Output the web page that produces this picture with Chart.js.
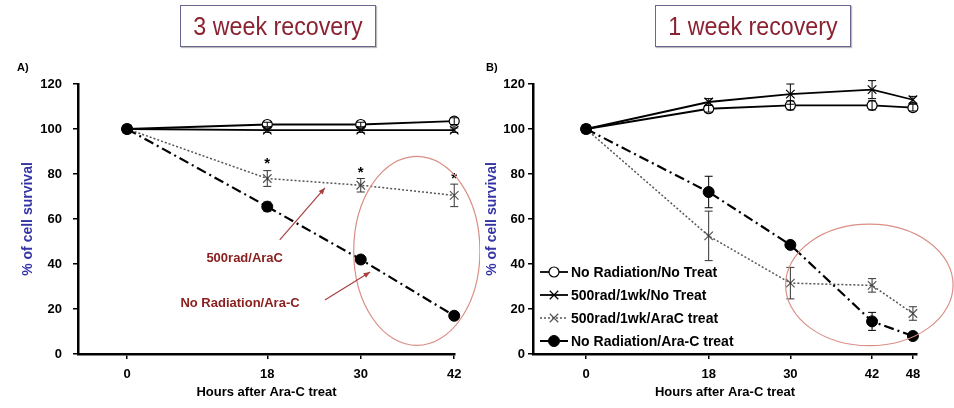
<!DOCTYPE html>
<html>
<head>
<meta charset="utf-8">
<script src="https://cdn.jsdelivr.net/npm/chart.js@4.4.1/dist/chart.umd.min.js"></script>
<style>
  body { margin: 0; background: #fff; }
  #wrap { position: relative; width: 954px; height: 408px; overflow: hidden; font-family: "Liberation Sans", Arial, sans-serif; }
  canvas { position: absolute; top: 0; }
  .ttl { position: absolute; top: 5px; width: 194px; height: 40px; border: 1px solid #66668f; box-shadow: 1px 1px 1px #bbb;
         color: #8b2232; font-size: 25px; line-height: 40px; text-align: center; white-space: nowrap; }
  .ttl span { display: inline-block; transform: scaleX(0.93); }
  .pl { position: absolute; top: 61px; font-size: 11px; font-weight: bold; }
</style>
</head>
<body>
<div id="wrap">
  <canvas id="chartA" width="480" height="408" style="left:0"></canvas>
  <canvas id="chartB" width="474" height="408" style="left:480px"></canvas>
  <div class="ttl" style="left:180px"><span>3 week recovery</span></div>
  <div class="ttl" style="left:655px"><span>1 week recovery</span></div>
  <div class="pl" style="left:17px">A)</div>
  <div class="pl" style="left:486px">B)</div>
</div>
<script>
// panel A - 3 week recovery
const hoursA = [0, 18, 30, 42];
const aNoRadNoTreat = [100, 102, 102, 103.5];
const aNoRadNoTreatErr = [0, 1, 1, 1.5];
const aRadNoTreat = [100, 99.5, 99.5, 99.5];
const aRadNoTreatErr = [0, 1, 1, 1];
const aRadAraC = [100, 78, 75, 70.5];
const aRadAraCErr = [0, 3.5, 3, 5];
const aNoRadAraC = [100, 65.5, 42, 17];
const aNoRadAraCErr = [0, 2, 1.5, 1.5];
const aStars = [null, 86, 82, 79];

// panel B - 1 week recovery
const hoursB = [0, 18, 30, 42, 48];
const bNoRadNoTreat = [100, 109, 110.5, 110.5, 109.5];
const bNoRadNoTreatErr = [0, 1.5, 2, 2, 1.5];
const bRadNoTreat = [100, 112, 115.5, 117.5, 113];
const bRadNoTreatErr = [0, 1.5, 4.5, 4, 1.5];
const bRadAraC = [100, 52.5, 31.5, 30.5, 18];
const bRadAraCErr = [0, 11, 7, 3, 3];
const bNoRadAraC = [100, 72, 48.5, 14.5, 8];
const bNoRadAraCErr = [0, 7, 1, 4, 1];

const legendNames = ['No Radiation/No Treat', '500rad/1wk/No Treat', '500rad/1wk/AraC treat', 'No Radiation/Ara-C treat'];
const yTicks = [0, 20, 40, 60, 80, 100, 120];

const FONT = '"Liberation Sans", Arial, sans-serif';

const styles = [
  { borderColor: '#000', borderWidth: 1.8, pointStyle: 'circle', pointRadius: 5, pointBackgroundColor: '#fff', pointBorderColor: '#000', pointBorderWidth: 1.2, order: 3 },
  { borderColor: '#000', borderWidth: 1.8, pointStyle: 'crossRot', pointRadius: 6, pointBackgroundColor: '#000', pointBorderColor: '#000', pointBorderWidth: 1.2, order: 2 },
  { borderColor: '#555', borderWidth: 1.5, borderDash: [2, 2], pointStyle: 'crossRot', pointRadius: 6, pointBackgroundColor: '#555', pointBorderColor: '#555', pointBorderWidth: 1.2, order: 1 },
  { borderColor: '#000', borderWidth: 2.2, borderDash: [10, 4, 2, 4], pointStyle: 'circle', pointRadius: 5.5, pointBackgroundColor: '#000', pointBorderColor: '#000', pointBorderWidth: 1, order: 0 }
];

function makeSet(i, hours, vals, errs) {
  return Object.assign({
    label: legendNames[i],
    data: hours.map((h, k) => ({ x: h, y: vals[k] })),
    errs: errs,
    tension: 0,
    fill: false,
    clip: false
  }, styles[i]);
}

// error bars, stars, notes, ellipse, legend
const extras = {
  id: 'extras',
  afterDatasetsDraw(chart, args, opts) {
    const ctx = chart.ctx;
    const xs = chart.scales.x, ys = chart.scales.y;
    ctx.save();
    chart.data.datasets.forEach((ds) => {
      ctx.strokeStyle = ds.borderColor === '#555' ? '#333' : '#000';
      ctx.lineWidth = 1;
      ctx.setLineDash([]);
      ds.data.forEach((p, k) => {
        const e = ds.errs[k];
        if (!e) return;
        const px = xs.getPixelForValue(p.x);
        const t = ys.getPixelForValue(p.y + e), b = ys.getPixelForValue(p.y - e);
        ctx.beginPath();
        ctx.moveTo(px, t); ctx.lineTo(px, b);
        ctx.moveTo(px - 4, t); ctx.lineTo(px + 4, t);
        ctx.moveTo(px - 4, b); ctx.lineTo(px + 4, b);
        ctx.stroke();
      });
    });

    if (opts.stars) {
      ctx.fillStyle = '#000';
      ctx.font = 'bold 15px ' + FONT;
      ctx.textAlign = 'center';
      ctx.textBaseline = 'middle';
      opts.stars.hours.forEach((h, k) => {
        if (opts.stars.vals[k] == null) return;
        ctx.fillText('*', xs.getPixelForValue(h), ys.getPixelForValue(opts.stars.vals[k]) + 3);
      });
    }

    if (opts.ellipse) {
      const el = opts.ellipse;
      const cx = xs.getPixelForValue(el.x), cy = ys.getPixelForValue(el.y);
      const rx = xs.getPixelForValue(el.x + el.rx) - cx;
      const ry = cy - ys.getPixelForValue(el.y + el.ry);
      ctx.strokeStyle = '#d98f86';
      ctx.lineWidth = 1.2;
      ctx.beginPath();
      ctx.ellipse(cx, cy, rx, ry, 0, 0, Math.PI * 2);
      ctx.stroke();
    }

    if (opts.notes) {
      ctx.font = 'bold 13px ' + FONT;
      ctx.textAlign = 'center';
      ctx.textBaseline = 'middle';
      opts.notes.forEach((n) => {
        ctx.fillStyle = '#8b2020';
        ctx.fillText(n.text, xs.getPixelForValue(n.x), ys.getPixelForValue(n.y));
        const x1 = xs.getPixelForValue(n.from[0]), y1 = ys.getPixelForValue(n.from[1]);
        const x2 = xs.getPixelForValue(n.to[0]), y2 = ys.getPixelForValue(n.to[1]);
        ctx.strokeStyle = '#a84040';
        ctx.fillStyle = '#a84040';
        ctx.lineWidth = 1.2;
        ctx.beginPath(); ctx.moveTo(x1, y1); ctx.lineTo(x2, y2); ctx.stroke();
        const a = Math.atan2(y2 - y1, x2 - x1);
        ctx.beginPath();
        ctx.moveTo(x2, y2);
        ctx.lineTo(x2 - 7 * Math.cos(a - 0.4), y2 - 7 * Math.sin(a - 0.4));
        ctx.lineTo(x2 - 7 * Math.cos(a + 0.4), y2 - 7 * Math.sin(a + 0.4));
        ctx.closePath(); ctx.fill();
      });
    }

    if (opts.legend) {
      const area = chart.chartArea;
      ctx.font = 'bold 14px ' + FONT;
      ctx.textAlign = 'left';
      ctx.textBaseline = 'middle';
      chart.data.datasets.forEach((ds, i) => {
        const y = area.bottom - 82 + i * 23;
        const x0 = area.left + 7;
        ctx.strokeStyle = ds.borderColor;
        ctx.lineWidth = ds.borderWidth;
        ctx.setLineDash(ds.borderDash || []);
        ctx.beginPath(); ctx.moveTo(x0, y); ctx.lineTo(x0 + 28, y); ctx.stroke();
        ctx.setLineDash([]);
        ctx.fillStyle = ds.pointBackgroundColor;
        ctx.strokeStyle = ds.pointBorderColor;
        ctx.lineWidth = ds.pointBorderWidth;
        Chart.helpers.drawPoint(ctx, { pointStyle: ds.pointStyle, radius: ds.pointRadius, borderWidth: ds.pointBorderWidth, rotation: 0 }, x0 + 14, y);
        ctx.fillStyle = '#000';
        ctx.fillText(ds.label, x0 + 31, y + 1);
      });
    }
    ctx.restore();
  }
};

function makeOptions(hours, xmin, xmax, pad, yWidth, tickPad, extraOpts) {
  return {
    responsive: false,
    animation: false,
    layout: { padding: pad },
    plugins: { legend: { display: false }, tooltip: { enabled: false }, extras: extraOpts },
    scales: {
      x: {
        type: 'linear', min: xmin, max: xmax,
        afterBuildTicks: (s) => { s.ticks = hours.map((v) => ({ value: v })); },
        afterFit: (s) => { s.height = 50; },
        grid: { drawOnChartArea: false, drawTicks: true, tickLength: 5, color: '#000', lineWidth: 1.5 },
        border: { display: true, color: '#000', width: 2.5 },
        ticks: { color: '#000', padding: 8, font: { family: FONT, size: 13, weight: 'bold' }, maxRotation: 0 },
        title: { display: true, text: 'Hours after Ara-C treat', color: '#000', padding: { top: 2, bottom: 4 }, font: { family: FONT, size: 13, weight: 'bold' } }
      },
      y: {
        min: 0, max: 120,
        afterBuildTicks: (s) => { s.ticks = yTicks.map((v) => ({ value: v })); },
        afterFit: (s) => { s.width = yWidth; },
        grid: { drawOnChartArea: false, drawTicks: true, tickLength: 5, color: '#000', lineWidth: 1.5 },
        border: { display: true, color: '#000', width: 2.5 },
        ticks: { color: '#000', padding: tickPad, font: { family: FONT, size: 13, weight: 'bold' } },
        title: { display: true, text: '% of cell survival', color: '#3434a6', padding: { top: 4, bottom: 4 }, font: { family: FONT, size: 14, weight: 'bold' } }
      }
    }
  };
}

new Chart(document.getElementById('chartA'), {
  type: 'line',
  data: {
    datasets: [
      makeSet(0, hoursA, aNoRadNoTreat, aNoRadNoTreatErr),
      makeSet(1, hoursA, aRadNoTreat, aRadNoTreatErr),
      makeSet(2, hoursA, aRadAraC, aRadAraCErr),
      makeSet(3, hoursA, aNoRadAraC, aNoRadAraCErr)
    ]
  },
  options: makeOptions(hoursA, -6.3, 42.1, { left: 16, right: 25, top: 84, bottom: 4 }, 62, 11, {
    stars: { hours: hoursA, vals: aStars },
    ellipse: { x: 37.2, y: 45.8, rx: 8.1, ry: 42 },
    notes: [
      { text: '500rad/AraC', x: 15.1, y: 42.7, from: [19.6, 50.7], to: [25.4, 73.8] },
      { text: 'No Radiation/Ara-C', x: 14.5, y: 22.7, from: [25.4, 24], to: [31.2, 36.4] }
    ]
  }),
  plugins: [extras]
});

new Chart(document.getElementById('chartB'), {
  type: 'line',
  data: {
    datasets: [
      makeSet(0, hoursB, bNoRadNoTreat, bNoRadNoTreatErr),
      makeSet(1, hoursB, bRadNoTreat, bRadNoTreatErr),
      makeSet(2, hoursB, bRadAraC, bRadAraCErr),
      makeSet(3, hoursB, bNoRadAraC, bNoRadAraCErr)
    ]
  },
  options: makeOptions(hoursB, -7.8, 48.6, { left: 0, right: 37, top: 84, bottom: 4 }, 53, 3, {
    ellipse: { x: 41.6, y: 30.7, rx: 12.3, ry: 27 },
    legend: true
  }),
  plugins: [extras]
});
</script>
</body>
</html>
